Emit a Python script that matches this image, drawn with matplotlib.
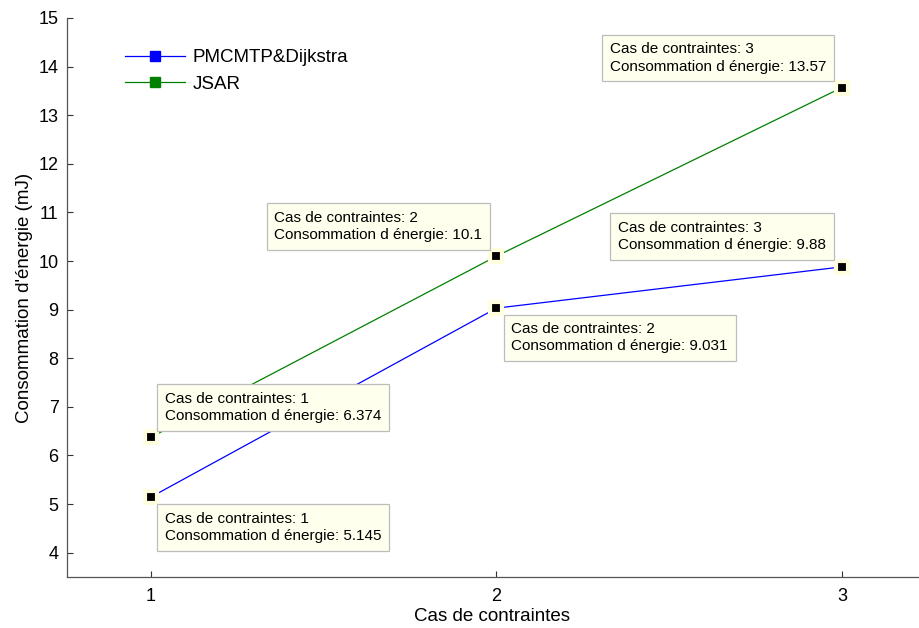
import matplotlib
matplotlib.use('Agg')
from matplotlib import pyplot as plt

cas = [1, 2, 3]
pmc = [5.145, 9.031, 9.88]
jsar = [6.374, 10.1, 13.57]
noms = ['PMCMTP&Dijkstra', 'JSAR']

# decalages des bulles (pixels) : (dx, dy, ha, va)
pos_pmc = [(7, -8, 'left', 'top'), (8, -7, 'left', 'top'), (-9, 8, 'right', 'bottom')]
pos_jsar = [(7, 7, 'left', 'bottom'), (-7, 7, 'right', 'bottom'), (-9, 7, 'right', 'bottom')]

plt.rcParams['font.family'] = ['Liberation Sans', 'DejaVu Sans']

fig = plt.figure(figsize=(9.19, 6.28), dpi=100)
ax = fig.add_axes([67/919, 1-577/628, 851/919, (577-18)/628])

ax.plot(cas, pmc, c='#0000ff', lw=0.9, marker='s', ms=7, mfc='#0000ff', mec='#0000ff', label=noms[0])
ax.plot(cas, jsar, c='#008000', lw=0.9, marker='s', ms=7, mfc='#008000', mec='#008000', label=noms[1])

pad = 7
for serie, poss in [(pmc, pos_pmc), (jsar, pos_jsar)]:
    ax.plot(cas, serie, ls='none', marker='s', ms=9, mfc='black', mec='#ffffe0', mew=3, zorder=5)
    for x, y, (dx, dy, ha, va) in zip(cas, serie, poss):
        ox = dx + pad if ha == 'left' else dx - pad
        oy = dy + pad if va == 'bottom' else dy - pad
        ax.annotate(f'Cas de contraintes: {x}\nConsommation d énergie: {y:.4g}',
                    xy=(x, y), xytext=(ox, oy), textcoords='offset pixels',
                    ha=ha, va=va, multialignment='left', fontsize=11, linespacing=1.3, zorder=6,
                    bbox=dict(boxstyle='square,pad=0.5', fc='#ffffee', ec='#bdbdbd', lw=0.9))

ax.set_xlim(0.757, 3.22)
ax.set_ylim(3.5, 15)
ax.set_xticks(cas)
ax.set_yticks(range(4, 16))
ax.tick_params(direction='in', length=4, width=0.8, colors='#333333', labelcolor='black', labelsize=13, pad=6)
ax.tick_params(axis='x', pad=8)
for s in ['top', 'right']:
    ax.spines[s].set_visible(False)
for s in ['left', 'bottom']:
    ax.spines[s].set_color('#555555')
    ax.spines[s].set_linewidth(0.9)

ax.set_xlabel('Cas de contraintes', fontsize=13.5, labelpad=2)
ax.set_ylabel("Consommation d'énergie (mJ)", fontsize=13.5, labelpad=4)

ax.legend(loc='upper left', bbox_to_anchor=(125/919, 1-49/628), bbox_transform=fig.transFigure,
          frameon=False, fontsize=13.5, handlelength=3.2, handletextpad=0.4, borderpad=0,
          borderaxespad=0, labelspacing=0.5)

plt.savefig('out.png', dpi=100)
